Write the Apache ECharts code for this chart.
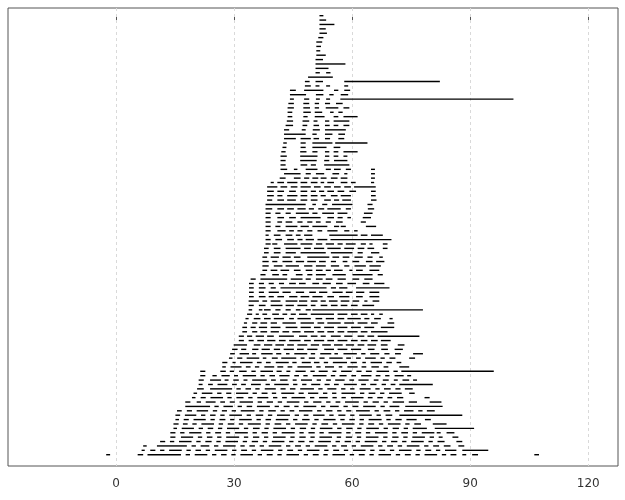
<!DOCTYPE html>
<html><head><meta charset="utf-8">
<script src="https://cdn.jsdelivr.net/npm/echarts@6/dist/echarts.min.js"></script>
<style>html,body{margin:0;padding:0;background:#fff}#c{width:625px;height:500px}</style>
</head><body><div id="c"></div>
<script>
// x-axis tick labels
const xTicks = [0, 30, 60, 90, 120];

// Each string is one row (top row first); "start:end" pairs separated by spaces.
const rowsTop = [
"51.7:52.7",
"51.7:53.4",
"51.7:55.5",
"51.7:53.3",
"51.7:53.6",
"51.4:52.7",
"50.9:52.4",
"50.9:52.1",
"50.9:51.9",
"50.9:53.3",
"50.7:52.6",
"50.7:58.3",
"50.7:54.0",
"50.7:51.8 53.4:54.5",
"48.8:55.1",
"48.0:49.2 50.7:52.6 58.0:82.3",
"48.0:49.5 50.7:51.7 53.4:54.4 58.0:59.0",
"44.2:45.7 47.8:52.7 55.4:56.5 58.0:59.5",
"44.2:48.3 50.8:52.7 54.2:55.3 57.1:59.0",
"44.2:45.2 47.8:49.1 50.8:51.8 53.4:54.4 57.0:101.0",
"43.8:45.2 47.6:49.1 50.5:51.6 53.1:54.4 55.9:57.6",
"43.6:45.2 47.6:49.3 50.5:51.6 53.3:56.5 57.8:59.3",
"43.6:44.8 47.6:49.5 50.5:52.4 54.4:55.3 56.5:57.6",
"43.6:44.8 47.6:48.7 50.5:53.0 55.3:56.5 57.8:61.4",
"43.4:45.0 47.4:49.1 50.2:51.2 53.1:54.2 55.3:59.3",
"43.1:45.0 47.4:48.6 50.2:51.6 53.1:54.3 55.3:56.5 57.8:59.3",
"42.7:44.0 47.2:48.2 50.0:51.8 53.1:58.4",
"42.7:48.2 49.9:51.0 53.1:55.0 56.5:58.2",
"42.7:45.7 46.9:49.5 50.2:51.6 53.1:54.4 56.5:58.0",
"42.5:43.4 46.9:48.2 49.9:55.0 55.7:63.9",
"42.3:43.3 46.9:48.2 49.9:53.5 55.3:57.0",
"42.0:43.1 46.8:48.4 49.9:51.2 53.1:54.2 55.3:56.5 57.8:61.4",
"41.8:43.4 46.8:51.2 53.1:54.2 55.3:56.5 57.8:58.8"
];
const rowsMid = [
"41.8:43.1 46.8:51.0 52.9:54.2 55.4:58.8",
"41.8:43.1 46.9:48.6 49.5:50.8 52.9:59.3",
"41.8:43.5 45.2:46.1 48.2:51.2 53.3:54.6 55.4:57.1 58.4:59.7 64.8:65.8",
"42.7:46.9 48.2:49.5 50.8:52.9 55.0:56.7 58.0:58.8 64.8:65.8",
"41.6:43.1 45.2:46.9 47.8:49.1 49.9:51.4 52.0:53.5 54.6:56.3 57.1:58.8 64.8:65.8",
"39.3:40.1 41.0:42.7 43.5:46.1 46.9:48.6 49.5:51.2 52.0:52.9 53.7:55.4 57.1:58.8 59.7:60.9 64.8:65.6",
"38.4:41.0 41.8:43.5 44.4:46.1 46.9:49.5 50.3:52.0 52.9:54.6 55.4:57.1 58.0:59.7 60.5:66.0",
"38.4:40.1 41.0:42.7 44.0:45.7 46.9:48.6 49.5:50.8 51.6:52.9 53.7:55.4 56.3:58.0 59.3:61.0 64.8:66.0",
"38.4:40.1 41.0:42.3 43.5:46.1 46.9:48.6 49.5:51.2 52.0:53.3 54.6:56.3 57.1:59.7 64.8:66.0",
"38.4:39.7 41.0:42.7 43.5:45.7 46.9:48.6 49.5:51.2 52.9:54.6 55.4:56.7 57.5:59.7 64.8:66.2",
"38.0:48.2 49.9:50.8 52.4:53.7 54.9:60.1 63.9:65.2",
"38.0:39.7 41.0:42.7 43.5:45.2 46.1:48.2 49.0:50.3 51.4:52.9 53.7:57.1 58.4:59.7 64.0:65.6",
"38.0:39.3 40.5:41.8 43.1:44.4 45.7:49.0 49.9:51.2 52.4:55.4 56.3:58.8 63.0:65.2",
"38.0:39.3 41.0:42.7 44.0:45.7 46.9:52.0 53.7:55.4 56.3:57.6 58.8:59.7 62.7:64.8",
"38.0:39.3 41.0:42.2 43.1:44.8 46.1:47.4 48.6:49.9 50.8:52.0 53.3:54.6 55.9:57.6 62.2:63.5",
"38.0:39.3 40.5:41.8 43.1:46.1 46.9:49.0 49.9:53.7 55.4:56.7 57.1:58.4 63.5:66.1",
"38.0:39.3 41.0:43.1 44.0:45.2 46.1:47.4 48.6:49.9 51.2:52.4 53.7:56.3 58.0:59.3 60.5:61.4",
"38.0:38.8 40.1:41.8 43.1:44.8 45.7:46.9 47.8:49.9 54.2:61.4 62.2:63.9 64.8:67.8",
"38.0:39.3 40.5:42.2 43.5:45.2 46.1:47.4 48.2:50.3 51.2:53.7 54.5:70.0",
"38.0:39.3 39.7:41.0 42.7:46.1 46.9:49.9 50.8:52.4 53.3:55.4 56.3:57.6 58.4:60.9 62.2:63.5 64.4:65.2 67.8:69.0",
"37.6:38.8 40.1:41.8 43.1:46.9 47.8:49.5 50.3:52.9 53.7:57.1 58.0:60.5 61.4:63.1 63.9:65.6 67.8:69.0",
"37.6:38.8 40.1:41.8 43.1:45.7 46.9:53.3 54.6:60.1 61.4:62.7 64.8:66.9",
"37.2:38.4 39.3:41.4 42.3:44.4 45.2:46.9 48.6:54.2 55.0:56.7 57.6:59.3 60.6:62.7 63.9:65.2 66.9:67.8",
"37.2:38.8 39.7:41.0 42.3:44.8 45.7:47.8 48.6:50.8 51.6:53.3 54.6:55.9 57.6:58.8 60.1:61.8 63.5:65.2 66.1:68.2",
"37.2:38.8 40.1:42.3 43.1:46.5 47.8:49.9 50.8:53.3 54.6:56.7 58.0:59.3 60.6:63.5 64.4:67.3",
"37.2:38.4 39.3:41.0 41.8:44.0 45.2:46.9 48.2:49.9 50.8:52.5 53.3:54.6 55.4:57.6 59.3:60.1 61.0:62.7 64.4:66.9",
"36.7:38.0 39.7:41.4 42.3:43.5 45.7:47.4 48.6:49.9 50.8:53.3 55.0:58.4 60.1:65.2 66.5:67.8",
"34.2:35.5 36.7:43.5 44.4:47.4 48.2:49.5 50.8:52.5 53.3:55.0 56.3:58.4 60.1:61.8 63.1:65.2",
"33.8:35.0 36.3:37.6 38.8:40.1 41.4:42.7 44.0:45.7 46.5:48.2 49.9:51.6 52.5:54.6 55.9:57.6 58.8:61.0 62.7:64.4 65.6:68.2",
"33.8:35.0 36.3:38.0 39.3:40.6 41.8:53.5 54.6:55.9 56.7:58.8 61.0:69.5",
"33.8:35.0 36.3:37.6 38.8:41.4 42.3:44.4 45.7:47.8 49.1:50.8 51.6:53.7 55.0:57.6 58.4:60.1 61.0:63.1 64.4:66.9",
"33.8:35.0 36.3:38.0 38.8:40.1 41.0:42.7 44.0:46.1 46.9:49.1 49.9:52.5 53.7:55.4 56.7:59.3 61.0:62.7 64.4:66.9",
"33.7:36.3 37.2:38.4 39.3:41.8 43.1:46.1 46.5:48.6 49.5:51.2 52.0:53.3 54.1:56.3 57.1:59.3 60.1:61.8 63.1:63.9 65.2:66.9",
"33.7:35.0 36.3:38.0 39.3:42.3 43.1:45.2 46.1:48.6 49.5:50.7 52.0:53.7 54.6:56.3 57.1:58.8 59.7:61.4 62.6:65.6"
];
const rowsLow = [
"33.7:34.6 36.3:37.2 37.6:39.3 40.5:41.8 43.1:44.4 45.7:46.9 48.2:49.5 49.9:78.0",
"33.3:34.6 35.5:36.3 37.2:38.4 39.7:41.4 42.3:43.5 44.4:45.7 46.5:48.6 49.5:55.4 56.3:58.8 59.7:61.4 62.2:63.9 64.8:65.6 66.9:67.8",
"32.9:33.7 35.0:36.7 37.6:39.3 40.1:42.7 44.0:45.2 46.1:49.5 50.7:52.4 53.3:55.4 56.3:58.0 58.8:62.2 63.1:64.4 65.6:67.3 69.5:70.3",
"32.5:33.3 34.6:35.9 36.7:38.4 39.3:40.9 42.3:45.7 46.9:50.3 51.2:52.9 53.7:57.1 58.0:60.5 61.4:63.9 64.8:66.5 69.0:70.7",
"32.1:33.3 34.2:35.5 36.3:38.4 39.3:41.8 43.1:46.1 46.9:49.5 50.3:52.0 52.9:55.4 56.3:58.8 59.7:62.2 63.1:65.6 67.3:70.7",
"32.1:33.3 34.6:35.9 36.7:38.4 39.3:41.4 42.3:44.0 44.8:46.9 47.8:50.3 51.2:52.9 53.7:55.4 56.3:58.0 58.8:61.4 62.2:63.9 64.8:69.0",
"31.2:32.5 33.3:34.6 35.5:37.6 38.4:40.1 41.4:45.2 46.5:48.6 49.5:51.2 52.0:53.3 54.6:57.1 58.0:60.1 61.4:63.1 63.9:65.6 66.5:77.1",
"31.2:32.5 33.7:35.0 35.9:37.6 38.4:40.5 41.4:43.1 44.0:46.9 47.8:49.5 50.3:52.9 53.7:55.4 56.3:58.8 59.7:61.4 62.2:63.9 64.8:66.5 67.3:69.8",
"29.9:33.3 35.0:36.7 37.6:39.7 40.5:42.7 43.5:45.2 46.1:48.6 49.5:51.6 52.4:54.6 55.4:57.6 58.4:60.5 61.4:63.1 63.9:66.1 67.3:69.0 71.6:73.3",
"29.5:30.9 31.8:33.1 34.6:36.2 37.0:39.1 40.1:41.7 42.6:45.2 46.0:47.7 48.6:51.2 52.9:55.4 56.3:58.8 59.7:62.3 64.0:65.7 67.4:69.1 70.8:72.9",
"29.0:30.2 31.4:33.8 34.6:35.6 36.9:39.8 40.7:42.0 43.2:44.1 45.3:48.6 49.5:50.6 51.9:54.7 55.5:56.4 57.8:61.2 62.3:63.4 64.6:66.9 68.2:69.5 70.9:72.4 75.5:78.0",
"28.7:29.6 30.8:32.1 33.2:36.4 37.3:38.2 39.6:41.1 42.0:45.8 46.9:47.9 49.0:50.6 51.7:53.0 54.2:57.6 58.5:59.7 61.0:62.2 63.3:66.0 67.2:68.3 69.5:71.0 74.5:76.0",
"27.0:28.3 29.6:30.4 31.5:34.7 35.8:37.0 38.1:39.3 40.6:43.9 44.8:45.9 47.2:49.5 50.3:51.7 52.8:53.9 55.1:58.7 59.6:61.2 62.6:63.5 64.7:67.6 68.7:70.1 71.3:72.5",
"27.0:27.9 29.1:31.9 33.0:34.2 35.3:36.4 37.7:40.2 41.0:42.5 43.6:44.8 46.1:49.8 50.9:52.0 53.1:55.4 56.6:57.5 58.8:61.4 62.4:63.6 64.9:66.8 68.0:69.2 72.0:74.5",
"21.4:22.7 26.5:27.9 28.9:30.0 31.3:33.2 34.4:35.5 36.7:39.9 40.8:42.1 43.3:44.3 45.6:48.2 49.4:50.5 51.5:53.8 55.0:56.0 57.2:59.9 61.1:62.4 63.5:65.0 66.2:69.4 70.5:71.6 72.5:96.0",
"21.4:22.7 24.5:25.6 26.8:28.9 30.0:31.0 32.2:35.6 36.7:37.8 39.0:40.4 41.5:44.1 45.3:46.5 47.6:48.7 50.0:53.5 54.6:55.7 56.8:58.6 59.8:61.0 62.3:64.9 66.0:67.2 68.4:69.5 70.8:73.1 74.0:75.0",
"21.0:22.3 23.9:26.7 27.6:28.6 29.8:31.2 32.4:33.4 34.6:38.3 39.4:40.6 41.7:43.6 44.9:45.9 47.0:49.8 51.0:52.1 53.4:54.6 55.7:58.1 59.3:60.5 61.6:64.2 65.5:66.7 67.8:69.3 70.6:71.6 72.8:74.5 75.5:76.5",
"21.0:22.0 23.4:24.6 25.8:28.3 29.5:30.7 31.8:33.0 34.3:36.8 38.0:39.1 40.2:43.9 45.0:46.1 47.3:48.4 49.6:51.9 53.0:54.3 55.4:56.6 57.9:61.2 62.3:63.5 64.6:66.2 67.5:68.6 69.8:71.0 72.0:80.5",
"20.6:22.3 23.9:29.5 30.6:31.7 32.9:34.3 35.4:36.5 37.8:40.6 41.8:43.1 44.2:45.6 46.8:50.3 51.4:52.5 53.7:56.0 57.2:58.3 59.5:60.6 61.9:64.7 65.9:67.0 68.1:69.8 71.0:72.3 73.4:75.4",
"19.7:20.6 21.8:24.5 25.7:26.8 28.0:29.3 30.5:33.6 34.7:35.8 37.0:38.5 39.6:40.7 42.0:45.3 46.4:47.7 48.8:51.4 52.6:53.7 54.9:56.0 57.3:60.8 62.0:63.1 64.2:65.9 67.1:68.2 69.4:72.6 74.5:75.9",
"19.3:20.2 21.5:22.8 24.0:27.2 28.3:29.4 30.6:32.4 33.6:34.7 35.9:38.7 39.9:41.0 42.2:43.4 44.6:48.1 49.3:50.4 51.6:53.8 55.0:56.1 57.3:58.4 59.7:62.9 64.0:65.2 66.4:67.8 69.0:70.2 71.4:73.0 78.4:79.7",
"17.6:18.9 20.5:21.6 22.8:25.3 26.5:27.7 28.9:30.2 31.4:34.8 36.0:37.1 38.3:39.9 41.1:42.2 43.4:46.6 47.8:48.9 50.1:52.2 53.4:54.5 55.8:57.0 58.2:61.7 62.9:64.0 65.2:66.8 68.0:69.1 70.3:73.2 74.4:76.5 79.7:82.7",
"17.6:23.9 25.0:26.1 27.3:29.7 30.9:32.0 33.2:34.6 35.8:39.1 40.3:41.4 42.6:44.1 45.3:46.4 47.6:50.9 52.1:53.2 54.4:56.6 57.8:58.9 60.1:61.6 62.8:66.0 67.2:68.3 69.5:72.0 73.5:83.0",
"15.5:16.7 18.0:19.3 20.5:23.4 24.6:25.7 26.9:28.2 29.4:30.5 31.7:35.2 36.4:37.5 38.7:40.6 41.8:42.9 44.1:45.3 46.5:49.9 51.1:52.2 53.4:55.0 56.2:57.3 58.5:59.8 61.0:64.5 65.7:66.8 68.0:69.7 70.9:72.0 73.2:75.6 76.8:77.9 79.0:81.0",
"15.1:16.3 17.5:20.4 21.6:22.7 23.9:25.3 26.5:27.6 28.8:32.0 33.2:34.3 35.5:37.4 38.6:39.7 40.9:44.2 45.4:46.5 47.7:48.9 50.1:53.0 54.2:55.3 56.5:58.3 59.5:60.6 61.8:65.0 66.2:67.3 68.5:70.2 72.0:88.0",
"15.1:16.0 17.2:18.5 19.7:22.8 24.0:25.1 26.3:27.8 29.0:30.1 31.3:34.5 35.7:36.8 38.0:39.4 40.6:43.8 45.0:46.1 47.3:49.2 50.4:51.5 52.7:55.8 57.0:58.1 59.3:60.7 61.9:63.0 64.2:67.5 68.7:69.8 71.0:72.6 73.8:76.4 78.5:80.0",
"14.6:15.9 17.0:18.2 19.4:20.5 21.7:24.9 26.1:27.2 28.4:30.0 31.2:32.3 33.5:36.8 38.0:39.1 40.3:42.0 43.2:44.3 45.5:48.7 49.9:51.0 52.2:53.9 55.1:56.2 57.4:60.6 61.8:62.9 64.1:65.6 66.8:67.9 69.1:72.3 73.5:74.6 75.8:77.5 80.5:84.0",
"14.6:15.5 16.7:19.8 21.0:22.1 23.3:24.7 25.9:27.0 28.2:31.3 32.5:33.6 34.8:36.5 37.7:38.8 40.0:43.2 44.4:45.5 46.7:48.3 49.5:50.6 51.8:55.0 56.2:57.3 58.5:60.1 61.3:62.4 63.6:66.8 68.0:69.1 70.3:71.9 73.1:74.2 75.4:79.0 81.0:91.0",
"13.8:15.1 16.3:17.4 18.6:21.7 22.9:24.0 25.2:26.7 27.9:29.0 30.2:33.5 34.7:35.8 37.0:38.6 39.8:40.9 42.1:45.4 46.6:47.7 48.9:50.5 51.7:52.8 54.0:57.3 58.5:59.6 60.8:62.3 63.5:64.6 65.8:69.0 70.2:71.3 72.5:74.2 75.4:76.5 77.7:80.9 81.5:82.5 84.0:86.0",
"13.8:15.1 16.5:19.6 20.8:21.9 23.1:24.5 25.7:26.8 28.0:31.3 32.5:33.6 34.8:36.4 37.6:38.7 39.9:43.1 44.3:45.4 46.6:48.2 49.4:50.5 51.7:54.9 56.1:57.2 58.4:60.0 61.2:62.3 63.5:66.7 67.9:69.0 70.2:71.8 73.0:74.1 75.3:78.5 79.7:80.8 82.0:83.0 85.5:87.0",
"11.2:12.5 13.7:14.8 16.0:19.2 20.4:21.5 22.7:24.3 25.5:26.6 27.8:31.0 32.2:33.3 34.5:36.1 37.3:38.4 39.6:42.8 44.0:45.1 46.3:47.9 49.1:50.2 51.4:54.6 55.8:56.9 58.1:59.7 60.9:62.0 63.2:66.4 67.6:68.7 69.9:71.5 72.7:73.8 75.0:78.2 79.4:80.5 81.7:83.5 86.5:88.0",
"6.9:7.8 10.4:18.0 19.2:20.3 21.5:23.7 24.9:26.0 27.2:30.4 31.6:32.7 33.9:35.3 36.5:37.6 38.8:42.0 43.2:44.3 45.5:47.0 48.2:49.3 50.5:53.7 54.9:56.0 57.2:58.7 59.9:61.0 62.2:65.4 66.6:67.7 68.9:70.4 71.6:72.7 73.9:77.1 78.3:79.4 80.6:82.1 83.3:85.0 87.0:88.5",
"6.5:7.3 8.7:10.0 11.2:12.3 13.5:16.7 17.9:19.0 20.2:21.6 22.8:23.9 25.1:28.3 29.5:30.6 31.8:33.3 34.5:35.6 36.8:40.0 41.2:42.3 43.5:45.0 46.2:47.3 48.5:51.7 52.9:54.0 55.2:56.7 57.9:59.0 60.2:63.4 64.6:65.7 66.9:68.4 69.6:70.7 71.9:75.1 76.3:77.4 78.6:80.1 81.3:82.4 83.6:86.5 88.0:94.6",
"-2.5:-1.5 5.5:6.9 8.0:16.5 17.7:18.8 20.0:23.2 24.4:25.5 26.7:28.1 29.3:30.4 31.6:34.8 36.0:37.1 38.3:39.8 41.0:42.1 43.3:46.5 47.7:48.8 50.0:51.5 52.7:53.8 55.0:58.2 59.4:60.5 61.7:63.2 64.4:65.5 66.7:69.9 71.1:72.2 73.4:74.9 76.1:77.2 78.4:81.6 82.8:83.9 85.0:86.5 88.0:89.0 90.5:92.0 106.3:107.5"
];

const rows = rowsTop.concat(rowsMid, rowsLow);
const segs = [];
rows.forEach(function (r, i) {
  r.trim().split(/\s+/).forEach(function (p) {
    const ab = p.split(':');
    segs.push([parseFloat(ab[0]), parseFloat(ab[1]), i]);
  });
});

const chart = echarts.init(document.getElementById('c'), null, {renderer: 'canvas'});

function renderGrid(params, api) {
  const v = api.value(0);
  const cs = params.coordSys;
  const p = api.coord([v, 0]);
  return {
    type: 'line',
    shape: {x1: Math.round(p[0]) + 0.5, y1: cs.y, x2: Math.round(p[0]) + 0.5, y2: cs.y + cs.height},
    style: {stroke: '#d9d9d9', lineWidth: 1, lineDash: [3, 3]},
    silent: true
  };
}
function renderSeg(params, api) {
  const a = api.coord([api.value(0), api.value(2)]);
  const b = api.coord([api.value(1), api.value(2)]);
  return {
    type: 'line',
    shape: {x1: a[0], y1: a[1], x2: b[0], y2: b[1]},
    style: {stroke: '#000', lineWidth: 1.4}
  };
}

chart.setOption({
  animation: false,
  backgroundColor: '#fff',
  grid: {left: 8, right: 7, top: 8, bottom: 34, show: true, borderColor: '#555', borderWidth: 1},
  xAxis: {
    type: 'value', min: -27.45, max: 127.57,
    axisLine: {show: false}, splitLine: {show: false},
    axisTick: {show: true, customValues: xTicks, length: 5, lineStyle: {color: '#555'}},
    axisLabel: {customValues: xTicks, color: '#333', fontFamily: 'DejaVu Sans', fontSize: 12, margin: 12}
  },
  yAxis: {type: 'value', inverse: true, min: -1.75, max: 102.57, show: false},
  series: [
    {type: 'custom', renderItem: renderGrid, data: xTicks.map(function (v) { return [v]; }), silent: true, z: 1},
    {type: 'custom', renderItem: renderSeg, data: segs, encode: {x: [0, 1], y: 2}, z: 2, silent: true}
  ]
});
</script>
</body></html>
